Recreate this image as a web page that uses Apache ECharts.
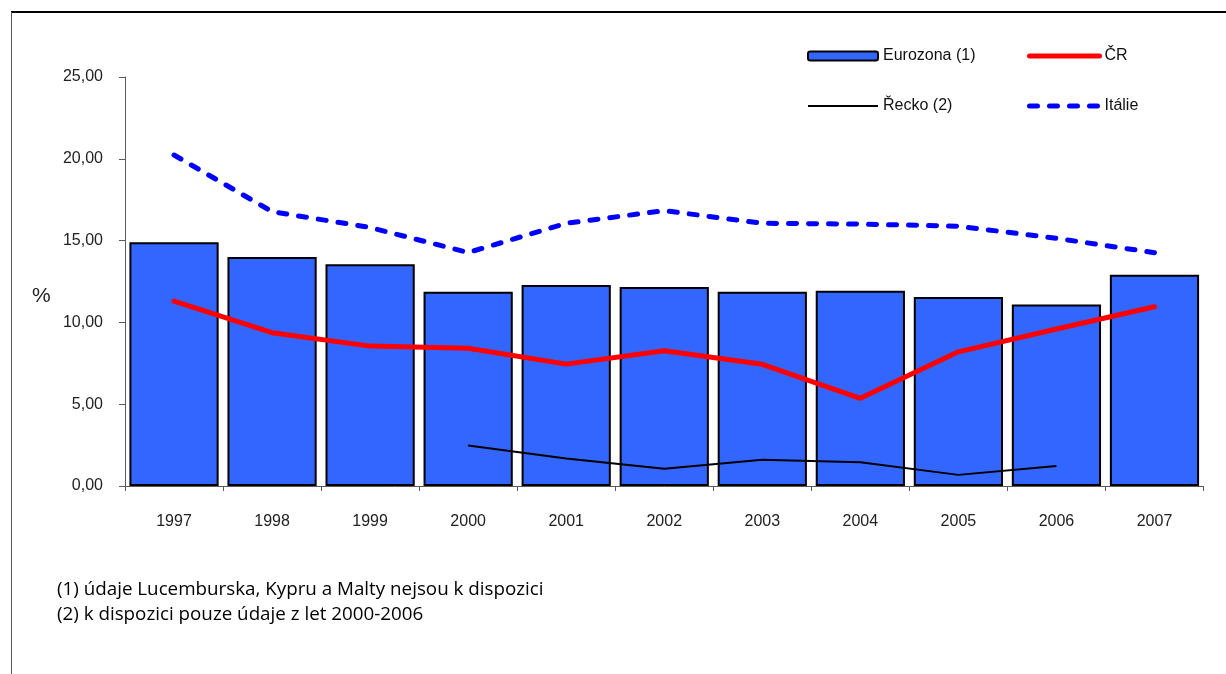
<!DOCTYPE html>
<html>
<head>
<meta charset="utf-8">
<script src="https://cdn.jsdelivr.net/npm/echarts@6/dist/echarts.min.js"></script>
<style>
  html, body { margin: 0; padding: 0; background: #fff; }
  #chart { width: 1226px; height: 674px; }
</style>
</head>
<body>
<div id="chart"></div>
<script>
// Years on the category axis
const years = ['1997', '1998', '1999', '2000', '2001', '2002', '2003', '2004', '2005', '2006', '2007'];

// Series values (%)
const eurozona = [14.9, 14.0, 13.55, 11.88, 12.28, 12.17, 11.87, 11.93, 11.55, 11.1, 12.92];
const cr = [11.3, 9.37, 8.55, 8.42, 7.45, 8.27, 7.44, 5.36, 8.2, 9.6, 10.96];
const recko = [null, null, null, 2.48, 1.68, 1.06, 1.6, 1.45, 0.68, 1.22, null];
const italie = [20.23, 16.77, 15.8, 14.27, 16.06, 16.83, 16.06, 16.01, 15.88, 15.14, 14.26];

// Value axis ticks
const yMin = 0, yMax = 25, yStep = 5;

// Series names and footnotes
const names = ['Eurozona (1)', 'ČR', 'Řecko (2)', 'Itálie'];
const notes = [
  '(1) údaje Lucemburska, Kypru a Malty nejsou k dispozici',
  '(2) k dispozici pouze údaje z let 2000-2006'
];

const font = 'Liberation Sans, Arial, sans-serif';

const styles = {
  bar: { color: '#3366FF', borderColor: '#000', borderWidth: 2 },
  cr: { color: '#FF0000', width: 5, type: 'solid', cap: 'round' },
  recko: { color: '#000', width: 2, type: 'solid', cap: 'butt' },
  italie: { color: '#0000FF', width: 5, type: [8, 12], cap: 'round' }
};

function legendAt(name, left, top, line) {
  const lg = {
    data: [name],
    left: left,
    top: top,
    itemWidth: 70,
    itemHeight: 9,
    itemGap: 6,
    selectedMode: false,
    padding: 0,
    textStyle: { fontFamily: font, fontSize: 16, color: '#111' }
  };
  if (line) {
    // line-only key: hide the marker, keep the stroke
    lg.itemStyle = { opacity: 0 };
    lg.lineStyle = { color: line.color, width: line.width, type: line.type, cap: line.cap, opacity: 1 };
  }
  return lg;
}

const chart = echarts.init(document.getElementById('chart'), null, { renderer: 'canvas' });

chart.setOption({
  animation: false,
  backgroundColor: '#fff',
  grid: { left: 125, right: 22.5, top: 77, bottom: 188, containLabel: false },
  legend: [
    legendAt(names[0], 807, 48, null),
    legendAt(names[1], 1027, 48, styles.cr),
    legendAt(names[2], 807, 98, styles.recko),
    legendAt(names[3], 1027, 98, styles.italie)
  ],
  xAxis: {
    type: 'category',
    data: years,
    boundaryGap: true,
    axisLine: { lineStyle: { color: '#5a5a5a', width: 1 } },
    axisTick: { show: true, length: 5, alignWithLabel: false, lineStyle: { color: '#5a5a5a' } },
    axisLabel: { margin: 28, fontFamily: font, fontSize: 16, color: '#222' }
  },
  yAxis: {
    type: 'value',
    min: yMin,
    max: yMax,
    interval: yStep,
    splitLine: { show: false },
    axisLine: { show: true, lineStyle: { color: '#5a5a5a', width: 1 } },
    axisTick: { show: true, length: 6, lineStyle: { color: '#5a5a5a' } },
    axisLabel: {
      margin: 22,
      fontFamily: font,
      fontSize: 16,
      color: '#222',
      formatter: v => v.toFixed(2).replace('.', ',')
    }
  },
  series: [
    {
      name: names[0],
      type: 'bar',
      data: eurozona,
      barWidth: '91%',
      itemStyle: styles.bar,
      z: 1
    },
    {
      name: names[1],
      type: 'line',
      data: cr,
      symbol: 'none',
      showSymbol: false,
      lineStyle: styles.cr,
      itemStyle: { color: styles.cr.color },
      z: 3
    },
    {
      name: names[2],
      type: 'line',
      data: recko,
      symbol: 'none',
      showSymbol: false,
      connectNulls: false,
      lineStyle: styles.recko,
      itemStyle: { color: styles.recko.color },
      z: 3
    },
    {
      name: names[3],
      type: 'line',
      data: italie,
      symbol: 'none',
      showSymbol: false,
      lineStyle: styles.italie,
      itemStyle: { color: styles.italie.color },
      z: 3
    }
  ],
  graphic: [
    // Outer frame (top and left edges)
    { type: 'line', shape: { x1: 11, y1: 12, x2: 1226, y2: 12 }, style: { stroke: '#000', lineWidth: 2 } },
    { type: 'line', shape: { x1: 11.5, y1: 12, x2: 11.5, y2: 674 }, style: { stroke: '#555', lineWidth: 1 } },
    {
      type: 'text', left: 32, top: 286,
      style: { text: '%', fontFamily: font, fontSize: 21, fill: '#222' }
    },
    {
      type: 'text', left: 57, top: 577,
      style: { text: notes.join('\n'), fontFamily: 'Open Sans, Lato, sans-serif', fontSize: 18.8, lineHeight: 25, fill: '#000' }
    }
  ]
});
</script>
</body>
</html>
